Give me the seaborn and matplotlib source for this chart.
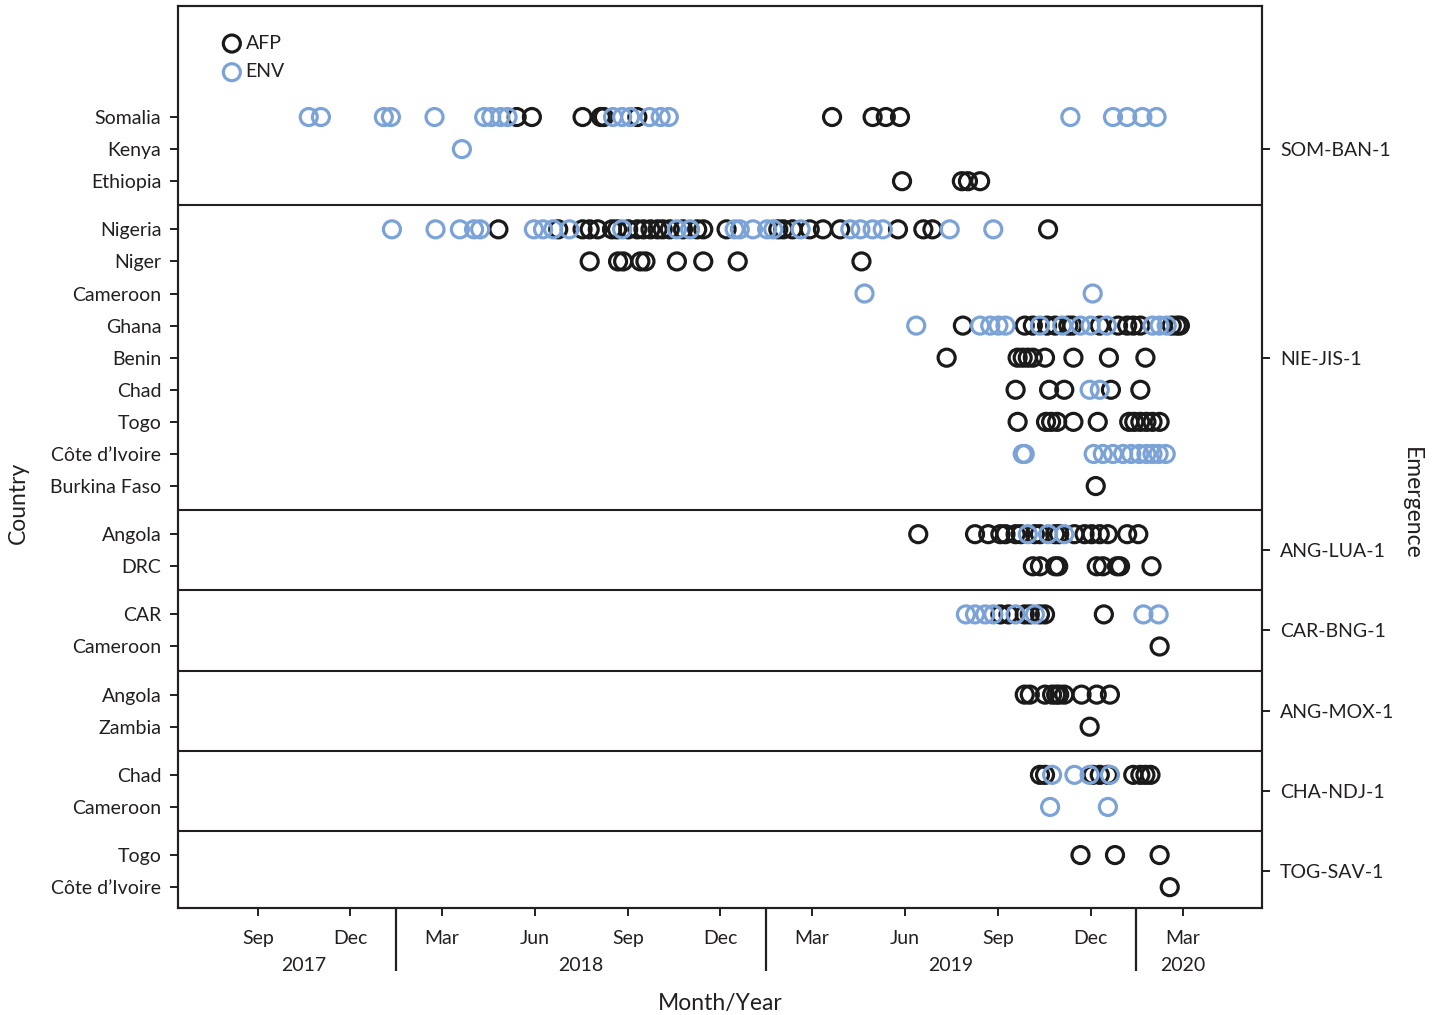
import pandas as pd
import matplotlib
matplotlib.use("Agg")
import matplotlib.pyplot as plt
import matplotlib.dates as mdates
from matplotlib.ticker import FixedLocator
import seaborn as sns

# Detection dates: AFP = paralysis cases, ENV = environmental samples
somalia_afp = ["2018-05-14", "2018-05-29", "2018-07-18", "2018-08-05", "2018-08-08", "2018-09-10",
               "2019-03-21", "2019-04-30", "2019-05-13", "2019-05-27"]
somalia_env = ["2017-10-21", "2017-11-02", "2018-01-03", "2018-01-10", "2018-02-22", "2018-04-12",
               "2018-04-19", "2018-04-28", "2018-05-05", "2018-08-17", "2018-08-26", "2018-09-03",
               "2018-09-22", "2018-10-03", "2018-10-11", "2019-11-11", "2019-12-23", "2020-01-06",
               "2020-01-21", "2020-02-04"]
kenya_afp = []
kenya_env = ["2018-03-21"]
ethiopia_afp = ["2019-05-29", "2019-07-27", "2019-08-02", "2019-08-14"]
ethiopia_env = []

nigeria_afp = ["2018-04-26", "2018-06-24", "2018-07-18", "2018-07-25", "2018-08-02", "2018-08-16",
               "2018-08-21", "2018-09-01", "2018-09-10", "2018-09-16", "2018-09-23", "2018-09-30",
               "2018-10-05", "2018-10-12", "2018-10-25", "2018-11-08", "2018-11-14", "2018-12-07",
               "2019-01-27", "2019-02-01", "2019-02-10", "2019-02-27", "2019-03-12", "2019-03-29",
               "2019-05-25", "2019-06-19", "2019-06-28", "2019-10-20"]
nigeria_env = ["2018-01-11", "2018-02-23", "2018-03-19", "2018-04-02", "2018-04-08", "2018-05-31",
               "2018-06-09", "2018-06-19", "2018-07-05", "2018-08-26", "2018-10-19", "2018-11-01",
               "2018-12-15", "2018-12-20", "2019-01-02", "2019-01-16", "2019-01-22", "2019-02-18",
               "2019-04-08", "2019-04-18", "2019-04-30", "2019-05-10", "2019-07-15", "2019-08-27"]
niger_afp = ["2018-07-25", "2018-08-22", "2018-08-27", "2018-09-13", "2018-09-18", "2018-10-19",
             "2018-11-14", "2018-12-18", "2019-04-19"]
niger_env = []
cameroon_nie_afp = []
cameroon_nie_env = ["2019-04-22", "2019-12-03"]
ghana_afp = ["2019-07-28", "2019-09-27", "2019-10-05", "2019-10-19", "2019-10-27", "2019-11-09",
             "2019-11-13", "2019-12-10", "2019-12-28", "2020-01-06", "2020-01-12", "2020-01-19",
             "2020-02-19", "2020-02-24", "2020-02-27"]
ghana_env = ["2019-06-12", "2019-08-14", "2019-08-24", "2019-09-01", "2019-09-08", "2019-10-12",
             "2019-11-03", "2019-11-21", "2019-12-01", "2019-12-17", "2020-01-31", "2020-02-07",
             "2020-02-14"]
benin_afp = ["2019-07-12", "2019-09-20", "2019-09-25", "2019-09-30", "2019-10-05", "2019-10-17",
             "2019-11-14", "2019-12-19", "2020-01-24"]
benin_env = []
chad_nie_afp = ["2019-09-18", "2019-10-21", "2019-11-05", "2019-12-21", "2020-01-19"]
chad_nie_env = ["2019-11-30", "2019-12-10"]
togo_nie_afp = ["2019-09-20", "2019-10-18", "2019-10-23", "2019-10-29", "2019-11-14", "2019-12-08",
                "2020-01-08", "2020-01-13", "2020-01-19", "2020-01-25", "2020-01-31", "2020-02-07"]
togo_nie_env = []
civ_nie_afp = []
civ_nie_env = ["2019-09-25", "2019-09-27", "2019-12-04", "2019-12-13", "2019-12-23", "2020-01-02",
               "2020-01-10", "2020-01-18", "2020-01-25", "2020-01-31", "2020-02-06", "2020-02-13"]
burkina_afp = ["2019-12-06"]
burkina_env = []

angola_lua_afp = ["2019-06-14", "2019-08-09", "2019-08-22", "2019-09-03", "2019-09-08", "2019-09-18",
                  "2019-09-23", "2019-10-07", "2019-10-12", "2019-10-27", "2019-10-31", "2019-11-15",
                  "2019-11-25", "2019-12-02", "2019-12-10", "2019-12-18", "2020-01-06", "2020-01-17"]
angola_lua_env = ["2019-09-30", "2019-10-20", "2019-11-05"]
drc_afp = ["2019-10-05", "2019-10-12", "2019-10-27", "2019-10-30", "2019-12-07", "2019-12-13",
           "2019-12-27", "2019-12-30", "2020-01-30"]
drc_env = []

car_afp = ["2019-09-03", "2019-09-11", "2019-09-27", "2019-10-02", "2019-10-12", "2019-10-17",
           "2019-12-14"]
car_env = ["2019-07-31", "2019-08-09", "2019-08-19", "2019-08-27", "2019-09-18", "2019-10-07",
           "2020-01-22", "2020-02-06"]
cameroon_car_afp = ["2020-02-07"]
cameroon_car_env = []

angola_mox_afp = ["2019-09-27", "2019-10-02", "2019-10-17", "2019-10-24", "2019-10-28", "2019-10-31",
                  "2019-11-05", "2019-11-22", "2019-12-07", "2019-12-20"]
angola_mox_env = []
zambia_afp = ["2019-11-30"]
zambia_env = []

chad_ndj_afp = ["2019-10-12", "2019-10-17", "2019-12-03", "2019-12-10", "2019-12-18", "2020-01-12",
                "2020-01-19", "2020-01-24", "2020-01-29"]
chad_ndj_env = ["2019-10-24", "2019-11-15", "2019-11-30", "2019-12-20"]
cameroon_ndj_afp = []
cameroon_ndj_env = ["2019-10-22", "2019-12-18"]

togo_sav_afp = ["2019-11-21", "2019-12-25", "2020-02-07"]
togo_sav_env = []
civ_sav_afp = ["2020-02-17"]
civ_sav_env = []

countries = ["Somalia", "Kenya", "Ethiopia",
             "Nigeria", "Niger", "Cameroon", "Ghana", "Benin", "Chad", "Togo", "Côte d’Ivoire", "Burkina Faso",
             "Angola", "DRC",
             "CAR", "Cameroon",
             "Angola", "Zambia",
             "Chad", "Cameroon",
             "Togo", "Côte d’Ivoire"]
afp_rows = [somalia_afp, kenya_afp, ethiopia_afp,
            nigeria_afp, niger_afp, cameroon_nie_afp, ghana_afp, benin_afp, chad_nie_afp, togo_nie_afp,
            civ_nie_afp, burkina_afp,
            angola_lua_afp, drc_afp,
            car_afp, cameroon_car_afp,
            angola_mox_afp, zambia_afp,
            chad_ndj_afp, cameroon_ndj_afp,
            togo_sav_afp, civ_sav_afp]
env_rows = [somalia_env, kenya_env, ethiopia_env,
            nigeria_env, niger_env, cameroon_nie_env, ghana_env, benin_env, chad_nie_env, togo_nie_env,
            civ_nie_env, burkina_env,
            angola_lua_env, drc_env,
            car_env, cameroon_car_env,
            angola_mox_env, zambia_env,
            chad_ndj_env, cameroon_ndj_env,
            togo_sav_env, civ_sav_env]
emergences = ["SOM-BAN-1", "NIE-JIS-1", "ANG-LUA-1", "CAR-BNG-1", "ANG-MOX-1", "CHA-NDJ-1", "TOG-SAV-1"]
group_sizes = [3, 9, 2, 2, 2, 2, 2]
year_labels = ["2017", "2018", "2019", "2020"]
year_label_dates = ["2017-10-16", "2018-07-16", "2019-07-16", "2020-03-01"]
year_breaks = ["2018-01-15", "2019-01-15", "2020-01-15"]

AFP_COLOR = "#1a1a1a"
ENV_COLOR = "#7ca3d8"
INK = "#231f20"

# row positions: one unit per country, extra half unit between emergence groups
ypos, centers, separators = [], [], []
y = 0.0
for n in group_sizes:
    start = y
    for _ in range(n):
        ypos.append(y)
        y += 1
    centers.append((start + y - 1) / 2)
    separators.append(y - 0.25)
    y += 0.5
separators = separators[:-1]

records = []
for yp, afp, env in zip(ypos, afp_rows, env_rows):
    records += [(pd.Timestamp(d), yp, "ENV") for d in env]
    records += [(pd.Timestamp(d), yp, "AFP") for d in afp]
df = pd.DataFrame(records, columns=["date", "row", "specimen"])

sns.set_style("ticks")
plt.rcParams["font.family"] = ["Lato", "DejaVu Sans"]
plt.rcParams["text.color"] = INK
plt.rcParams["axes.labelcolor"] = INK
plt.rcParams["xtick.color"] = INK
plt.rcParams["ytick.color"] = INK

fig, ax = plt.subplots(figsize=(14.42, 10.15), dpi=100)
fig.subplots_adjust(left=0.1234, right=0.8752, top=0.9941, bottom=0.1054)

for kind, col in [("AFP", AFP_COLOR), ("ENV", ENV_COLOR)]:
    sns.scatterplot(data=df[df["specimen"] == kind], x="date", y="row", color=col,
                    facecolors="none", edgecolor=col, linewidth=2.3, s=150, marker="o",
                    label=kind, ax=ax, zorder=3)

ax.set_xlim(pd.Timestamp("2017-06-14"), pd.Timestamp("2020-05-18"))
ax.set_ylim(24.65, -3.46)

ax.xaxis.set_major_locator(mdates.MonthLocator(bymonth=[3, 6, 9, 12]))
ax.xaxis.set_major_formatter(mdates.DateFormatter("%b"))
ax.xaxis.set_minor_locator(FixedLocator(mdates.date2num(pd.to_datetime(year_breaks))))
ax.tick_params(axis="x", which="major", length=6, width=1.4, labelsize=14, pad=10)
ax.tick_params(axis="x", which="minor", length=45, width=1.6)
for lab, d in zip(year_labels, year_label_dates):
    ax.text(pd.Timestamp(d), -0.0632, lab, transform=ax.get_xaxis_transform(),
            ha="center", va="center", fontsize=14)

ax.set_yticks(ypos)
ax.set_yticklabels(countries)
ax.tick_params(axis="y", length=6, width=1.4, labelsize=14, pad=6)

for s in separators:
    ax.axhline(s, color=INK, lw=1.5, zorder=2)
for sp in ax.spines.values():
    sp.set_linewidth(1.5)
    sp.set_color(INK)

ax.set_xlabel("Month/Year", fontsize=16.5, va="center")
ax.xaxis.set_label_coords(0.5, -0.1053)
ax.set_ylabel("Country", fontsize=16.5, va="center")
ax.yaxis.set_label_coords(-0.1476, 0.449)

ax.legend(loc="upper left", bbox_to_anchor=(0.03, 0.979), frameon=False, fontsize=14,
          handletextpad=0.1, labelspacing=0.6, borderpad=0, handlelength=1.2)

ax2 = ax.twinx()
ax2.set_ylim(ax.get_ylim())
ax2.set_yticks(centers)
ax2.set_yticklabels(emergences)
ax2.tick_params(axis="y", length=6, width=1.4, labelsize=14, pad=7)
ax2.set_ylabel("Emergence", fontsize=16.5, rotation=270, va="center")
ax2.yaxis.set_label_coords(1.1375, 0.449)
for sp in ax2.spines.values():
    sp.set_linewidth(1.5)
    sp.set_color(INK)

fig.savefig("out.png", dpi=100)
plt.close(fig)
